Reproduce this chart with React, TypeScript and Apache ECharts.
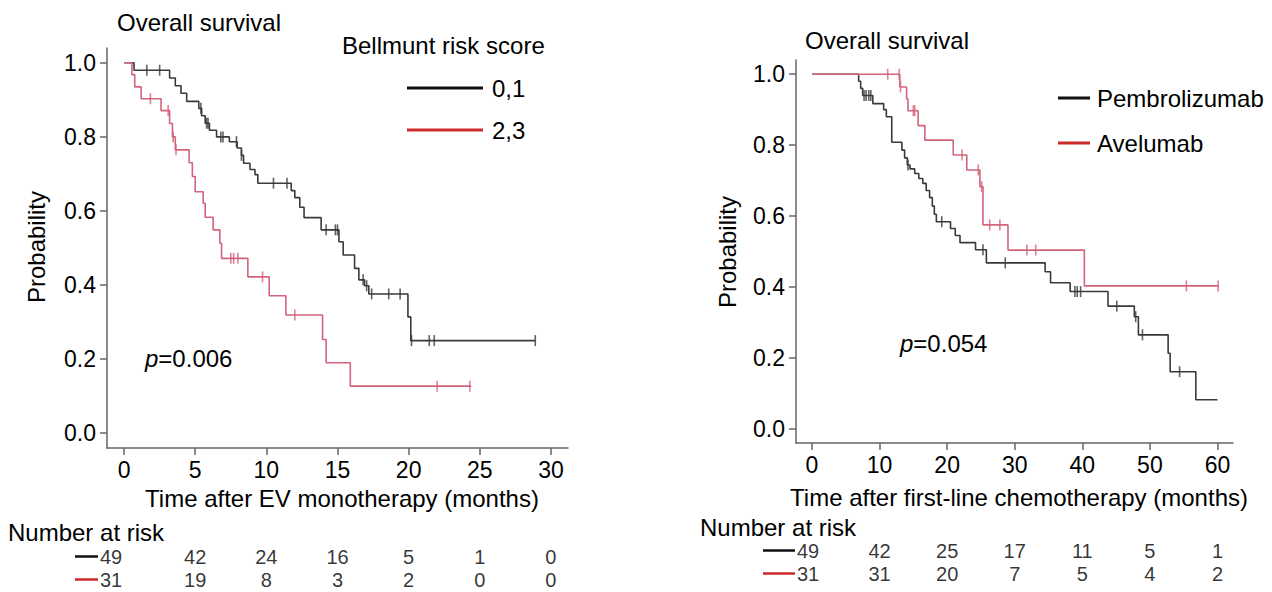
import React, { useEffect, useRef } from "react";
import * as echarts from "echarts";

// ---------- Left panel: EV monotherapy, by Bellmunt risk score ----------
const evLowTimes = [0, 0.7, 3.2, 3.6, 4.0, 4.4, 5.25, 5.45, 5.7, 6.0, 6.5, 7.4, 7.95, 8.25, 8.4, 8.85, 9.2, 9.4, 11.75, 12.0, 12.35, 12.65, 13.85, 15.1, 15.4, 16.2, 16.5, 16.9, 17.2, 19.95, 20.15];
const evLowSurv = [1, 0.98, 0.959, 0.938, 0.918, 0.896, 0.877, 0.857, 0.837, 0.818, 0.8, 0.787, 0.77, 0.75, 0.729, 0.712, 0.698, 0.675, 0.655, 0.636, 0.61, 0.582, 0.549, 0.517, 0.481, 0.445, 0.414, 0.398, 0.376, 0.314, 0.25];
const evLowEnd = 28.9;
const evLowCensor = [1.6, 2.5, 5.4, 5.8, 5.9, 6.8, 6.95, 7.9, 8.25, 10.5, 11.45, 14.2, 14.85, 15.0, 16.8, 17.05, 17.4, 18.6, 19.4, 20.2, 21.45, 21.8, 28.9];

const evHighTimes = [0, 0.55, 0.75, 1.2, 2.6, 3.2, 3.4, 3.6, 4.57, 4.8, 5.0, 5.56, 5.7, 6.26, 6.73, 6.85, 8.7, 10.2, 11.37, 13.95, 14.2, 15.9];
const evHighSurv = [1, 0.968, 0.935, 0.903, 0.871, 0.836, 0.8, 0.765, 0.73, 0.693, 0.652, 0.621, 0.583, 0.549, 0.513, 0.472, 0.422, 0.371, 0.319, 0.253, 0.19, 0.127];
const evHighEnd = 24.4;
const evHighCensor = [1.85, 3.1, 3.45, 3.65, 7.5, 7.7, 8.0, 9.73, 12.0, 22.0, 24.3];

const evTicks = [0, 5, 10, 15, 20, 25, 30];
const evRiskLow = [49, 42, 24, 16, 5, 1, 0];
const evRiskHigh = [31, 19, 8, 3, 2, 0, 0];

// ---------- Right panel: first-line chemotherapy, by maintenance drug ----------
const pemTimes = [0, 6.9, 7.2, 7.5, 9.0, 10.6, 11.0, 11.8, 13.3, 13.7, 14.1, 14.5, 15.2, 15.8, 16.4, 16.9, 17.4, 17.8, 18.1, 18.4, 20.5, 21.2, 21.9, 24.2, 25.8, 34.5, 35.3, 38.2, 43.8, 47.7, 48.3, 52.7, 53.0, 56.8];
const pemSurv = [1, 0.98, 0.96, 0.94, 0.917, 0.9, 0.88, 0.808, 0.786, 0.764, 0.744, 0.733, 0.72, 0.706, 0.692, 0.672, 0.652, 0.628, 0.605, 0.584, 0.565, 0.545, 0.525, 0.505, 0.468, 0.443, 0.412, 0.387, 0.346, 0.316, 0.265, 0.213, 0.161, 0.082];
const pemEnd = 60.0;
const pemCensor = [7.7, 8.0, 8.4, 8.7, 14.2, 19.2, 25.3, 28.6, 38.9, 39.25, 39.75, 45.1, 47.9, 48.9, 54.4];

const aveTimes = [0, 13.0, 14.0, 14.2, 15.7, 16.7, 20.9, 22.9, 24.85, 25.3, 29.0, 40.3];
const aveSurv = [1, 0.964, 0.93, 0.897, 0.855, 0.814, 0.772, 0.73, 0.683, 0.575, 0.504, 0.403];
const aveEnd = 60.2;
const aveCensor = [11.2, 12.9, 13.1, 15.0, 15.2, 22.2, 24.6, 25.1, 26.3, 27.8, 31.8, 33.1, 55.4, 60.1];

const chemoTicks = [0, 10, 20, 30, 40, 50, 60];
const chemoRiskPem = [49, 42, 25, 17, 11, 5, 1];
const chemoRiskAve = [31, 31, 20, 7, 5, 4, 2];

const probTicks = [0, 0.2, 0.4, 0.6, 0.8, 1.0];

// ---------- helpers ----------
const FONT = "'Liberation Sans', Arial, sans-serif";
const BLACK = "#3a3a3a";
const PINK = "#d2647c";
const LEG_RED = "#cc2a2a";
const AXIS = "#666";
const TXT = 24;

function stepData(times: number[], surv: number[], end: number) {
  const d = times.map((t, i) => [t, surv[i]]);
  d.push([end, surv[surv.length - 1]]);
  return d;
}
function survAt(times: number[], surv: number[], t: number) {
  let s = surv[0];
  for (let i = 0; i < times.length; i++) if (times[i] <= t) s = surv[i];
  return s;
}
function censorData(times: number[], surv: number[], cens: number[]) {
  return cens.map((t) => [t, survAt(times, surv, t)]);
}

function xAxisCfg(gridIndex: number, min: number, max: number, ticks: number[], show: boolean) {
  return {
    type: "value",
    gridIndex,
    min,
    max,
    show,
    axisLine: { show: true, onZero: false, lineStyle: { color: AXIS, width: 1.5 } },
    axisTick: { show: true, customValues: ticks, length: 7, lineStyle: { color: AXIS, width: 1.5 } },
    axisLabel: { customValues: ticks, fontSize: 23, color: "#000", margin: 10, fontFamily: FONT },
    splitLine: { show: false },
  };
}
function yAxisCfg(gridIndex: number) {
  return {
    type: "value",
    gridIndex,
    min: -0.04,
    max: 1.04,
    axisLine: { show: true, onZero: false, lineStyle: { color: AXIS, width: 1.5 } },
    axisTick: { show: true, customValues: probTicks, length: 7, lineStyle: { color: AXIS, width: 1.5 } },
    axisLabel: {
      customValues: probTicks,
      fontSize: 23,
      color: "#000",
      margin: 11,
      fontFamily: FONT,
      formatter: (v: number) => v.toFixed(1),
    },
    splitLine: { show: false },
  };
}
function hiddenY(gridIndex: number) {
  return { type: "category", gridIndex, data: ["a", "b"], inverse: true, show: false };
}

function kmLine(name: string, xi: number, times: number[], surv: number[], end: number, color: string) {
  return {
    name,
    type: "line",
    xAxisIndex: xi,
    yAxisIndex: xi,
    step: "end",
    showSymbol: false,
    symbol: "none",
    data: stepData(times, surv, end),
    lineStyle: { color, width: 1.6 },
    z: 3,
  };
}
function kmCensor(name: string, xi: number, times: number[], surv: number[], cens: number[], color: string) {
  return {
    name,
    type: "scatter",
    xAxisIndex: xi,
    yAxisIndex: xi,
    symbol: "rect",
    symbolSize: [1.6, 11],
    itemStyle: { color },
    data: censorData(times, surv, cens),
    z: 4,
  };
}
function riskRow(xi: number, row: number, ticks: number[], nums: number[], firstShift: number) {
  return {
    type: "scatter",
    xAxisIndex: xi,
    yAxisIndex: xi,
    symbolSize: 1,
    itemStyle: { color: "rgba(0,0,0,0)" },
    label: {
      show: true,
      position: "inside",
      color: "#000",
      fontSize: 20,
      lineHeight: 20,
      fontFamily: FONT,
      formatter: (p: any) => String(p.value[2]),
    },
    data: ticks.map((t, i) =>
      i === 0
        ? { value: [t, row, nums[i]], label: { offset: [firstShift, 0] } }
        : { value: [t, row, nums[i]] }
    ),
  };
}

function txt(text: string, x: number, y: number, extra: any = {}, rotation = 0) {
  return {
    type: "text",
    x,
    y,
    rotation,
    style: {
      text,
      fill: "#000",
      font: `${TXT}px ${FONT}`,
      align: "left",
      verticalAlign: "middle",
      ...extra,
    },
  };
}
function pText(value: string, x: number, y: number) {
  return {
    type: "text",
    x,
    y,
    style: {
      text: `{i|p}{n|=${value}}`,
      rich: {
        i: { fontStyle: "italic", fontSize: TXT, fontFamily: FONT, fill: "#000" },
        n: { fontSize: TXT, fontFamily: FONT, fill: "#000" },
      },
      fill: "#000",
      font: `${TXT}px ${FONT}`,
      verticalAlign: "middle",
    },
  };
}
function seg(x1: number, y: number, x2: number, color: string, w = 2.5) {
  return { type: "line", shape: { x1, y1: y, x2, y2: y }, style: { stroke: color, lineWidth: w } };
}

export default function App() {
  const ref = useRef<HTMLDivElement>(null);
  useEffect(() => {
    if (!ref.current) return;
    const chart = echarts.init(ref.current, undefined, { renderer: "svg" });
    chart.setOption({
      animation: false,
      backgroundColor: "#fff",
      grid: [
        { left: 107, top: 48, width: 461, height: 400 },
        { left: 796, top: 60, width: 437, height: 383 },
        { left: 107, top: 545, width: 461, height: 46 },
        { left: 796, top: 539, width: 437, height: 46 },
      ],
      xAxis: [
        xAxisCfg(0, -1.2, 31.2, evTicks, true),
        xAxisCfg(1, -2.37, 62.3, chemoTicks, true),
        xAxisCfg(2, -1.2, 31.2, evTicks, false),
        xAxisCfg(3, -2.37, 62.3, chemoTicks, false),
      ],
      yAxis: [yAxisCfg(0), yAxisCfg(1), hiddenY(2), hiddenY(3)],
      series: [
        kmLine("0,1", 0, evLowTimes, evLowSurv, evLowEnd, BLACK),
        kmLine("2,3", 0, evHighTimes, evHighSurv, evHighEnd, PINK),
        kmCensor("0,1 censored", 0, evLowTimes, evLowSurv, evLowCensor, BLACK),
        kmCensor("2,3 censored", 0, evHighTimes, evHighSurv, evHighCensor, PINK),
        kmLine("Pembrolizumab", 1, pemTimes, pemSurv, pemEnd, BLACK),
        kmLine("Avelumab", 1, aveTimes, aveSurv, aveEnd, PINK),
        kmCensor("Pembrolizumab censored", 1, pemTimes, pemSurv, pemCensor, BLACK),
        kmCensor("Avelumab censored", 1, aveTimes, aveSurv, aveCensor, PINK),
        riskRow(2, 0, evTicks, evRiskLow, -13),
        riskRow(2, 1, evTicks, evRiskHigh, -13),
        riskRow(3, 0, chemoTicks, chemoRiskPem, -4),
        riskRow(3, 1, chemoTicks, chemoRiskAve, -4),
      ],
      graphic: [
        // left panel
        txt("Overall survival", 117, 22),
        txt("Bellmunt risk score", 342, 45),
        seg(407, 88, 483, "#111", 3),
        txt("0,1", 492, 88),
        seg(407, 130, 483, LEG_RED, 3),
        txt("2,3", 492, 130),
        txt("Probability", 36, 247, { align: "center" }, Math.PI / 2),
        pText("0.006", 145, 358),
        txt("Time after EV monotherapy (months)", 342, 498, { align: "center" }),
        txt("Number at risk", 8, 532),
        seg(75, 556.5, 98, "#111"),
        seg(75, 579.5, 98, LEG_RED),
        // right panel
        txt("Overall survival", 805, 40),
        seg(1058, 98, 1090, "#111", 3),
        txt("Pembrolizumab", 1097, 98),
        seg(1058, 143, 1090, LEG_RED, 3),
        txt("Avelumab", 1097, 143),
        txt("Probability", 727, 252, { align: "center" }, Math.PI / 2),
        pText("0.054", 900, 343),
        txt("Time after first-line chemotherapy (months)", 1019, 497, { align: "center" }),
        txt("Number at risk", 700, 527),
        seg(763, 550.5, 795, "#111"),
        seg(763, 573.5, 795, LEG_RED),
      ],
    });
    return () => chart.dispose();
  }, []);
  return (
    <div
      ref={ref}
      style={{ position: "fixed", left: 0, top: 0, width: 1272, height: 592, background: "#fff" }}
    />
  );
}
